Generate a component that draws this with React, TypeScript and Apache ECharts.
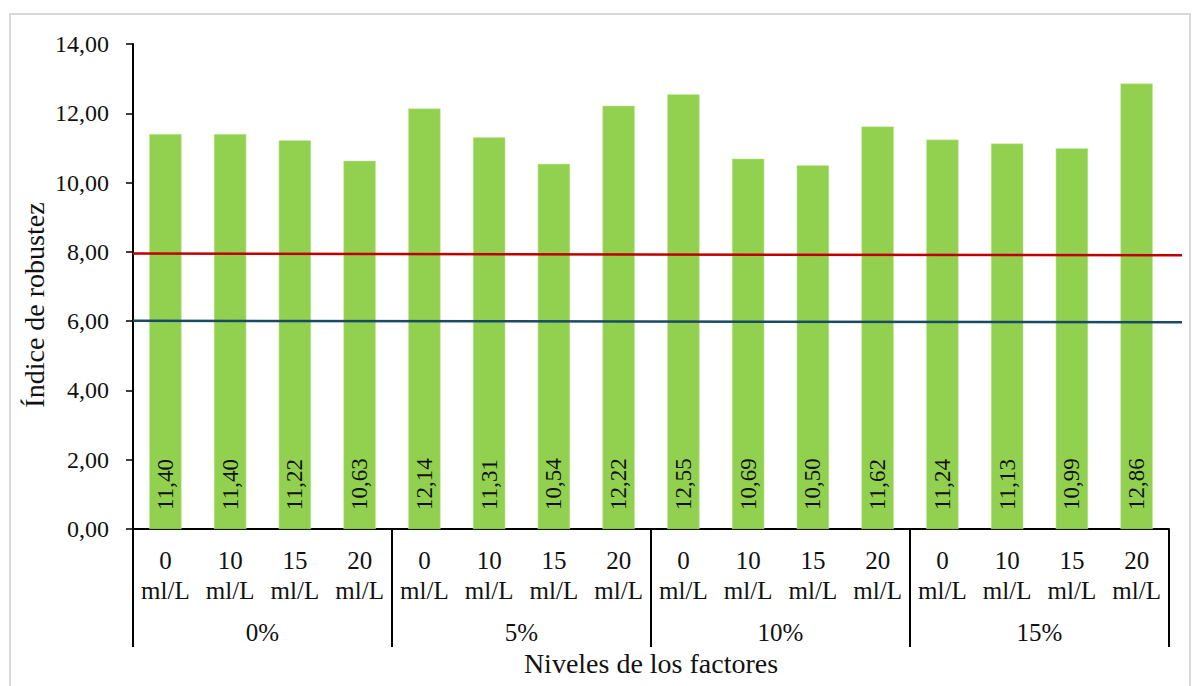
import React, { useEffect, useRef } from "react";
import * as echarts from "echarts";

const doses = ["0 ml/L", "10 ml/L", "15 ml/L", "20 ml/L", "0 ml/L", "10 ml/L", "15 ml/L", "20 ml/L", "0 ml/L", "10 ml/L", "15 ml/L", "20 ml/L", "0 ml/L", "10 ml/L", "15 ml/L", "20 ml/L"];
const groups = ["0%", "5%", "10%", "15%"];
const robustez = [11.4, 11.4, 11.22, 10.63, 12.14, 11.31, 10.54, 12.22, 12.55, 10.69, 10.5, 11.62, 11.24, 11.13, 10.99, 12.86];
const redLine = [[0, 7.95], [1, 7.9]];
const blueLine = [[0, 6.01], [1, 5.97]];

const FONT = "Liberation Serif, serif";
const fmt = (v: number) => v.toFixed(2).replace(".", ",");

export default function App() {
  const ref = useRef<HTMLDivElement>(null);
  useEffect(() => {
    if (!ref.current) return;
    const chart = echarts.init(ref.current, null, { renderer: "svg" });
    chart.setOption({
      animation: false,
      backgroundColor: "#ffffff",
      textStyle: { fontFamily: FONT },
      grid: [
        { left: 133, right: 29, top: 44, bottom: 157 },
        { left: 133, right: 16, top: 44, bottom: 157 },
      ],
      xAxis: [
        {
          type: "category",
          gridIndex: 0,
          data: doses,
          axisLine: { lineStyle: { color: "#000", width: 2 } },
          axisTick: { show: false },
          axisLabel: {
            interval: 0,
            margin: 16,
            color: "#111",
            fontFamily: FONT,
            fontSize: 25,
            lineHeight: 30,
            formatter: (v: string) => v.replace(" ", "\n"),
          },
        },
        {
          type: "category",
          gridIndex: 0,
          position: "bottom",
          data: groups,
          axisLine: { show: false },
          axisTick: { show: true, length: 118, interval: 0, lineStyle: { color: "#000", width: 2 } },
          axisLabel: { interval: 0, margin: 88, color: "#111", fontFamily: FONT, fontSize: 25, lineHeight: 30 },
        },
        { type: "value", gridIndex: 1, min: 0, max: 1, show: false },
      ],
      yAxis: [
        {
          type: "value",
          gridIndex: 0,
          min: 0,
          max: 14,
          interval: 2,
          axisLine: { show: true, lineStyle: { color: "#000", width: 2 } },
          axisTick: { show: true, length: 7, lineStyle: { color: "#000", width: 1.5 } },
          splitLine: { show: false },
          axisLabel: { margin: 24, color: "#111", fontFamily: FONT, fontSize: 24, formatter: (v: number) => fmt(v) },
        },
        { type: "value", gridIndex: 1, min: 0, max: 14, show: false },
      ],
      series: [
        {
          type: "bar",
          xAxisIndex: 0,
          yAxisIndex: 0,
          data: robustez,
          barCategoryGap: "50%",
          itemStyle: { color: "#92D050", borderColor: "#c8e8a8", borderWidth: 0.5 },
          label: {
            show: true,
            position: "insideBottom",
            distance: 19,
            rotate: 90,
            align: "left",
            verticalAlign: "middle",
            color: "#111",
            fontFamily: FONT,
            fontSize: 23,
            formatter: (p: any) => fmt(p.value),
          },
          z: 2,
        },
        {
          type: "line",
          xAxisIndex: 2,
          yAxisIndex: 1,
          data: redLine,
          symbol: "none",
          lineStyle: { color: "#C00000", width: 2.5 },
          z: 3,
        },
        {
          type: "line",
          xAxisIndex: 2,
          yAxisIndex: 1,
          data: blueLine,
          symbol: "none",
          lineStyle: { color: "#1B4A66", width: 2.5 },
          z: 3,
        },
      ],
      graphic: [
        {
          type: "rect",
          shape: { x: 10, y: 14, width: 1180, height: 700 },
          style: { fill: "none", stroke: "#d9d9d9", lineWidth: 2 },
          silent: true,
        },
        {
          type: "text",
          x: 34,
          y: 305,
          rotation: Math.PI / 2,
          style: {
            text: "Índice de robustez",
            align: "center",
            verticalAlign: "middle",
            fill: "#111",
            fontFamily: FONT,
            fontSize: 28,
          },
        },
        {
          type: "text",
          x: 651,
          y: 663,
          style: {
            text: "Niveles de los factores",
            align: "center",
            verticalAlign: "middle",
            fill: "#111",
            fontFamily: FONT,
            fontSize: 28,
          },
        },
      ],
    });
    return () => chart.dispose();
  }, []);
  return (
    <div
      ref={ref}
      style={{ position: "fixed", left: 0, top: 0, width: 1198, height: 686 }}
    />
  );
}
